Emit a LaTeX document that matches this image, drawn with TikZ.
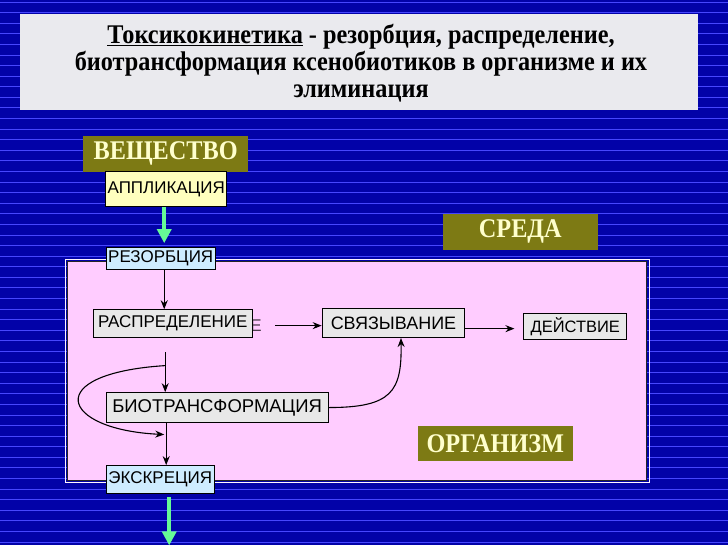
\documentclass[tikz,border=0pt]{standalone}
\usepackage{fontspec}
\setmainfont{Liberation Serif}
\setsansfont{Liberation Sans}
\newfontfamily\titlefont[FakeStretch=0.9]{Liberation Serif}
\usetikzlibrary{arrows.meta,calc,positioning}

\definecolor{bgBlue}{RGB}{2,2,168}
\definecolor{bgLine}{RGB}{70,70,255}
\definecolor{titleGray}{RGB}{234,234,238}
\definecolor{olive}{RGB}{125,122,20}
\definecolor{oliveText}{RGB}{255,255,204}
\definecolor{applYellow}{RGB}{255,255,190}
\definecolor{stepBlue}{RGB}{206,236,255}
\definecolor{stepGray}{RGB}{232,232,232}
\definecolor{orgPink}{RGB}{255,204,255}
\definecolor{flowGreen}{RGB}{102,250,150}

\newcommand{\tkStepHeight}{28pt}
\newcommand{\tkSize}[1]{\sffamily\fontsize{#1}{#1}\selectfont}
\tikzset{
  tk base/.style={font=\tkSize{17}, inner sep=2pt},
  tk arrow/.style={line width=1.1pt,-{Stealth[length=9pt,width=7pt]}},
  tk green/.style={line width=4pt, draw=flowGreen,
    -{Triangle[length=14pt,width=14pt]}},
  tk olive/.style={rectangle, fill=olive, text=oliveText,
    font=\titlefont\bfseries\fontsize{27}{27}\selectfont,
    minimum width=155pt, minimum height=36pt, inner sep=0pt},
  tk stepbox/.style={draw, rectangle, line width=0.8pt,
    minimum height=\tkStepHeight, align=center, inner sep=0pt},
}

\begin{document}
\begin{tikzpicture}[x=1pt, y=-1pt, tk base]
% background
\fill[bgBlue] (0,0) rectangle (728,546);
\foreach \yy in {2,12.6,...,546}
  \draw[bgLine, line width=0.8pt] (0,\yy) -- (728,\yy);
\useasboundingbox (0,0) rectangle (728,546);

% title
\fill[titleGray] (20,14) rectangle (698,110);
\node (title) [align=center, font=\titlefont\bfseries\fontsize{27}{27}\selectfont,
  inner sep=0pt] at (361,63)
  {\underline{Токсикокинетика} - резорбция, распределение,\\
   биотрансформация ксенобиотиков в организме и их\\
   элиминация};

% organism frame
\draw[white!80!orgPink, line width=1pt] (65,260) rectangle (650,483);
\draw[fill=orgPink, draw=black!85, line width=1.2pt] (67,262) rectangle (647,481);

% labels
\node (substance) [tk olive, minimum width=165pt] at (165.5,154) {ВЕЩЕСТВО};
\node (medium)    [tk olive] at (520.5,232) {СРЕДА};
\node (organism)  [tk olive] at (495.5,444) {ОРГАНИЗМ};

% steps
\node (appl)   [tk stepbox, fill=applYellow, minimum width=121pt,
                minimum height=35pt] at (166,189.5) {АППЛИКАЦИЯ};
\node (resorb) [tk stepbox, fill=stepBlue, minimum width=109pt,
                minimum height=22pt] at (160.5,259) {РЕЗОРБЦИЯ};
\node (distr)  [anchor=west, text=black!70!orgPink] at (248,326) {Е};
\node (distrib)[tk stepbox, fill=stepGray, minimum width=159pt] at (172.5,324)
               {РАСПРЕДЕЛЕНИЕ};
\node (binding)[tk stepbox, fill=stepGray, minimum width=143pt,
                minimum height=29pt, font=\tkSize{18}] at (393.5,323.5) {СВЯЗЫВАНИЕ};
\node (action) [tk stepbox, fill=stepGray, minimum width=103pt,
                minimum height=26pt, font=\tkSize{16.5}] at (575.5,327) {ДЕЙСТВИЕ};
\node (biotr)  [tk stepbox, fill=stepGray, minimum width=222pt,
                minimum height=30pt, font=\tkSize{18.5}] at (217,408) {БИОТРАНСФОРМАЦИЯ};
\node (excret) [tk stepbox, fill=stepBlue, minimum width=108pt] at (160,480)
               {ЭКСКРЕЦИЯ};

% connectors
\coordinate (appl out) at ($(appl.south)+(-2,0)$);
\coordinate (excret out) at (169,546);
\draw[tk green] (appl out) -- ++(0,36);
\draw[tk green] ($(excret.south)+(9,3)$) -- (excret out);

\draw[tk arrow] (resorb.south -| 164,0) -- (distrib.north -| 164,0);
\draw[tk arrow] (275,326) -- (binding.west |- 0,326);
\draw[tk arrow] (binding.east |- 0,329) -- ($(action.west |- 0,329)+(-9,0)$);
\coordinate (branch) at (165,366);
\coordinate (rejoin) at (164,435);
\draw[line width=1.1pt] ($(distrib.south -| 165,0)+(0,14)$) -- (branch);
\draw[tk arrow] (branch) -- (biotr.north -| 165,0);
\draw[tk arrow] (branch) .. controls (40,374) and (60,430) .. (rejoin);
\draw[tk arrow] (biotr.south -| 166,0) -- (excret.north -| 166,0);
\draw[tk arrow] (biotr.east) .. controls (392,408) and (402,392) ..
  (binding.south -| 401,0);
\end{tikzpicture}
\end{document}
